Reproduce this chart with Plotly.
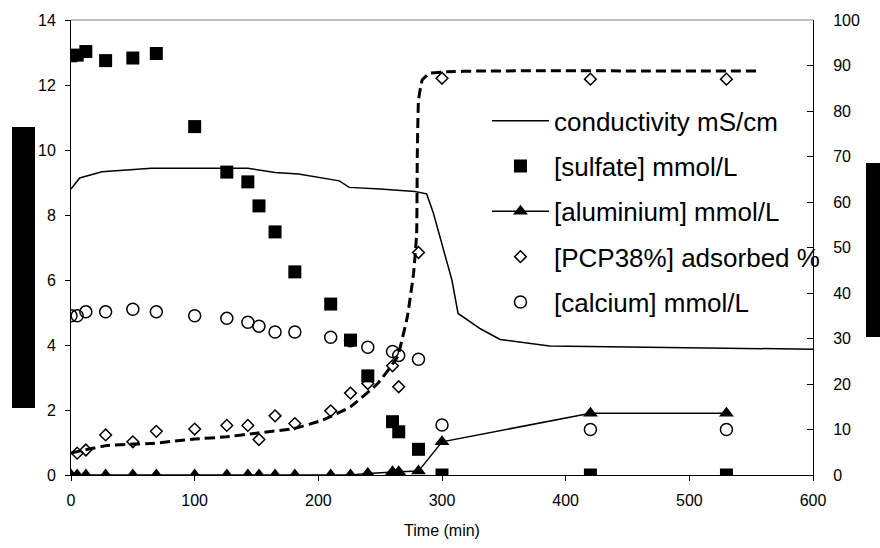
import plotly.graph_objects as go

# ---- data ----
time_min = [0, 5, 12, 28, 50, 69, 100, 126, 143, 152, 165, 181, 210, 226, 240, 260, 265, 281, 300, 420, 530]
sulfate = [12.9, 12.92, 13.03, 12.75, 12.83, 12.97, 10.72, 9.32, 9.02, 8.28, 7.48, 6.25, 5.26, 4.15, 3.05, 1.64, 1.33, 0.79, 0, 0, 0]
aluminium = [0, 0, 0, 0, 0, 0, 0, 0, 0, 0, 0, 0, 0, 0, 0.05, 0.1, 0.1, 0.12, 1.02, 1.9, 1.9]
calcium = [4.9, 4.9, 5.02, 5.02, 5.1, 5.02, 4.9, 4.82, 4.7, 4.58, 4.4, 4.4, 4.24, 4.13, 3.93, 3.8, 3.68, 3.56, 1.54, 1.4, 1.4]

pcp_time = [5, 12, 28, 50, 69, 100, 126, 143, 152, 165, 181, 210, 226, 240, 260, 265, 281, 300, 420, 530]
pcp_adsorbed = [4.8, 5.5, 8.8, 7.3, 9.6, 10.1, 10.9, 10.9, 7.8, 13.0, 11.3, 14.1, 18.0, 20.1, 24.0, 19.4, 48.9, 87.2, 87.0, 87.0]

cond_time = [0, 7, 25, 45, 65, 143, 165, 184, 217, 225, 250, 278, 287.6, 293, 301, 308, 313, 331, 347, 387, 600]
conductivity = [8.8, 9.14, 9.33, 9.38, 9.44, 9.44, 9.31, 9.26, 9.05, 8.85, 8.8, 8.72, 8.65, 8.06, 6.92, 6.0, 4.97, 4.5, 4.17, 3.97, 3.87]

fit_time = [0, 11, 29, 50, 64, 100, 126, 150, 180, 204, 226, 248, 264, 272, 277, 279.5, 280, 281, 284, 290, 304, 330, 554]
fit_pcp = [4.8, 5.5, 6.5, 6.8, 6.9, 7.9, 8.4, 9.2, 10.2, 12.1, 15.0, 20.1, 26.0, 34.8, 44.3, 53.0, 70.0, 82.4, 86.8, 88.3, 88.6, 88.8, 88.8]

x_ticks = [0, 100, 200, 300, 400, 500, 600]
left_ticks = [0, 2, 4, 6, 8, 10, 12, 14]
right_ticks = [0, 10, 20, 30, 40, 50, 60, 70, 80, 90, 100]

FONT = "Liberation Sans, Arial, sans-serif"

fig = go.Figure()
fig.add_trace(go.Scatter(x=cond_time, y=conductivity, mode="lines", name="conductivity mS/cm",
                         line=dict(color="black", width=1.5), legendgroup="a"))
fig.add_trace(go.Scatter(x=time_min, y=sulfate, mode="markers", name="[sulfate] mmol/L",
                         marker=dict(symbol="square", size=13, color="black"), legendgroup="b"))
fig.add_trace(go.Scatter(x=time_min, y=aluminium, mode="lines+markers", name="[aluminium] mmol/L",
                         line=dict(color="black", width=1.5),
                         marker=dict(symbol="triangle-up", size=13, color="black"), legendgroup="c"))
fig.add_trace(go.Scatter(x=pcp_time, y=pcp_adsorbed, mode="markers", name="[PCP38%] adsorbed %", yaxis="y2",
                         marker=dict(symbol="diamond-open", size=9, color="black", line=dict(width=1.5)),
                         legendgroup="d"))
fig.add_trace(go.Scatter(x=time_min, y=calcium, mode="markers", name="[calcium] mmol/L",
                         marker=dict(symbol="circle-open", size=12, color="black", line=dict(width=1.5)),
                         legendgroup="e"))
fig.add_trace(go.Scatter(x=fit_time, y=fit_pcp, mode="lines", yaxis="y2", showlegend=False,
                         line=dict(color="black", width=3, dash="10px,5px", shape="spline", smoothing=0.3)))

fig.update_layout(
    width=880, height=548,
    margin=dict(l=71, r=67, t=20, b=73, autoexpand=False),
    paper_bgcolor="white", plot_bgcolor="white",
    font=dict(family=FONT, color="black", size=16),
    xaxis=dict(range=[0, 600], tickvals=x_ticks, ticks="outside", ticklen=5, tickcolor="black",
               showline=True, linecolor="black", linewidth=1, showgrid=False, zeroline=False,
               tickfont=dict(size=16), ticklabelstandoff=6,
               title=dict(text="Time (min)", font=dict(size=16), standoff=16)),
    yaxis=dict(range=[0, 14], tickvals=left_ticks, ticks="outside", ticklen=5, tickcolor="black",
               showline=True, linecolor="black", linewidth=1, showgrid=False, zeroline=False,
               tickfont=dict(size=16), ticklabelstandoff=6),
    yaxis2=dict(range=[0, 100], tickvals=right_ticks, overlaying="y", side="right", ticks="inside",
                ticklen=6, tickcolor="black", showline=True, linecolor="black", linewidth=1,
                showgrid=False, zeroline=False, tickfont=dict(size=16), ticklabelstandoff=16),
    legend=dict(x=0.5606, y=0.83, xanchor="left", yanchor="top", bgcolor="rgba(0,0,0,0)",
                font=dict(size=26), traceorder="grouped", tracegroupgap=8.5, itemwidth=57),
    showlegend=True,
    shapes=[
        dict(type="line", xref="paper", yref="paper", x0=0, x1=1, y0=1, y1=1,
             line=dict(color="#808080", width=1)),
        dict(type="rect", xref="paper", yref="paper", x0=-0.0795, x1=-0.0485, y0=0.147, y1=0.765,
             fillcolor="black", line=dict(width=0)),
        dict(type="rect", xref="paper", yref="paper", x0=1.0714, x1=1.1, y0=0.3033, y1=0.6857,
             fillcolor="black", line=dict(width=0)),
    ],
)

fig.write_html("out.html", config={"displayModeBar": False},
               post_script="document.body.style.margin='0';document.body.style.overflow='hidden';")
